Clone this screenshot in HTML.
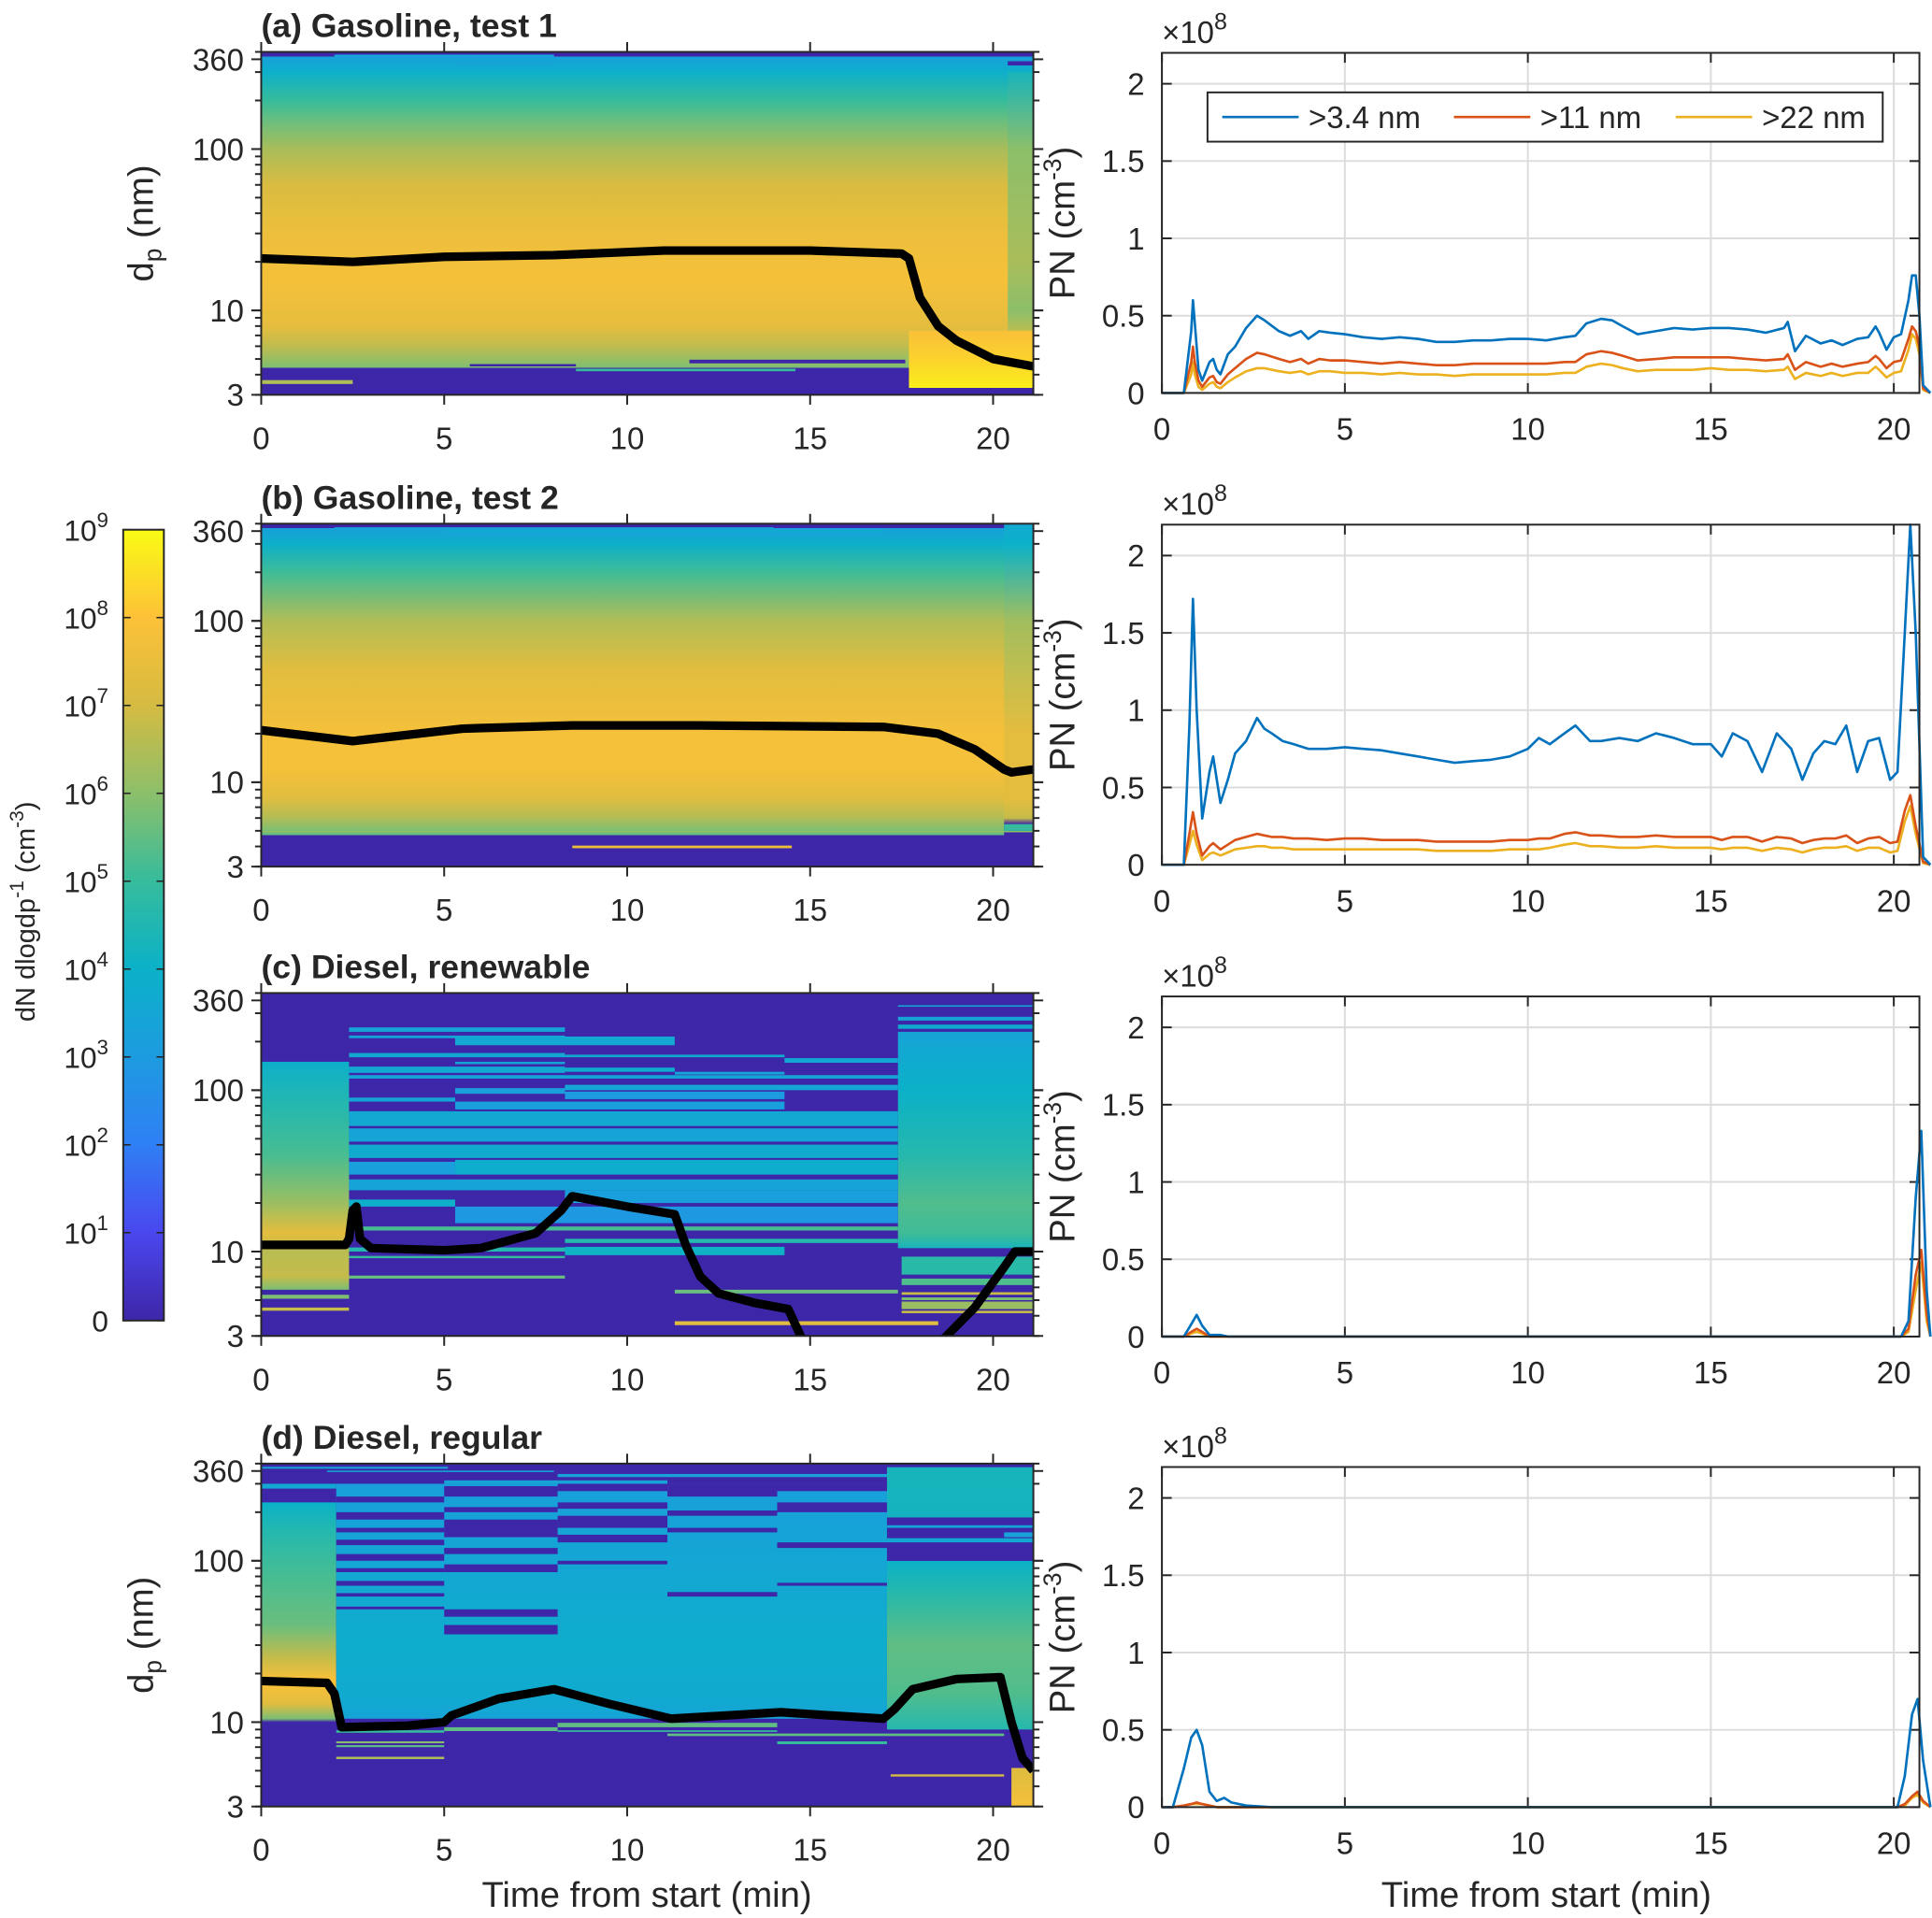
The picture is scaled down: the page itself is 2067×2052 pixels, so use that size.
<!DOCTYPE html>
<html><head><meta charset="utf-8"><style>
html,body{margin:0;padding:0;background:#fff}
svg{display:block}
text{font-family:"Liberation Sans",Arial,sans-serif;fill:#262626}
</style></head><body>
<svg id="fig" xmlns="http://www.w3.org/2000/svg" width="2067" height="2052" viewBox="0 0 1568 1557" preserveAspectRatio="none">
<defs id="defs"></defs>
</svg>
<script>
// ---------- DATA ----------
const xTickLabels = [0,5,10,15,20];
const dTickLabels = [3,10,100,360];
const pnTickLabels = [0,0.5,1,1.5,2];
const cbarLabels = ['0','1','2','3','4','5','6','7','8','9'];
const panelTitles = ['(a) Gasoline, test 1','(b) Gasoline, test 2','(c) Diesel, renewable','(d) Diesel, regular'];
const seriesNames = ['>3.4 nm','>11 nm','>22 nm'];

// heatmap segments: [t0, t1, [[diameter nm, log-level 0..9], ...]]
const segA = [
 [0,21.1,[[400,0],[375,0],[375,3.2],[300,3.9],[200,5.0],[150,5.6],[100,6.4],[60,7.1],[30,7.6],[15,7.8],[8,7.4],[6,6.7],[4.7,6.0],[4.4,5.8],[4.4,0],[3,0]]],
 [17.7,21.1,[[7.5,7.9],[5,8.3],[3.3,8.8],[3.3,0],[3,0]]],
 [20.4,21.1,[[300,4.3],[100,6.0],[20,6.4],[10,6.0],[7.5,6.6]]]
];
const segB = [
 [0,21.1,[[400,0],[375,0],[375,3.2],[300,3.9],[200,5.1],[100,6.5],[50,7.3],[20,7.8],[12,7.8],[8,7.3],[6,6.5],[5,5.8],[4.7,5.5],[4.7,0],[3,0]]],
 [20.3,21.1,[[400,3.6],[300,4.0],[100,6.3],[20,7.4],[8,7.4],[6,6.8],[5.5,0],[3,0]]]
];
const segC = [
 [0,21.1,[[400,0],[3,0]]],
 [0,2.4,[[150,3.9],[80,4.6],[40,5.2],[20,6.2],[13,7.4],[10,6.6],[7,6.8],[5.8,5.8],[5.8,0]]],
 [17.4,21.1,[[230,3.4],[100,4.0],[40,4.6],[20,5.3],[13,5.1],[10.5,4.3],[10.5,0]]]
];
const segD = [
 [0,21.1,[[400,0],[3,0]]],
 [0,2.05,[[230,4.0],[150,4.6],[80,5.2],[40,5.6],[25,6.8],[18,8.0],[13,7.3],[10.5,5.8],[10,0]]],
 [2.05,17.1,[[300,3.2],[100,3.5],[30,3.8],[15,3.7],[10.5,3.4],[10.5,0]]],
 [17.1,21.1,[[380,4.3],[185,4.2],[185,0],[100,0],[100,4.0],[60,4.7],[30,5.5],[15,5.3],[9,4.6],[9,0]]],
 [20.5,21.1,[[5.2,7.2],[3,7.8]]]
];
// thin stripes: [t0, t1, dLow, dHigh, level]
const bandsA = [[2,8,370,385,3.3],[5.3,8,330,345,3.4],[0,2.5,3.5,3.7,6.5],[5.7,8.6,4.5,4.65,0],[11.7,17.6,4.7,4.95,0],[8.6,14.6,4.2,4.35,5],[20.4,21.1,330,350,0]];
const bandsB = [[2,14,370,380,3.4],[5,17,360,365,3.8],[0,21.1,4.9,5.0,6],[8.5,14.5,3.9,4.05,7.5],[20.3,21.1,5.0,5.5,5]];
const bandsC = [
 [2.4,8.3,230,245,3.4],[2.4,8.3,210,218,3.4],[5.3,11.3,190,215,3.6],[2.4,8.3,160,170,3.6],[8.3,14.3,160,166,3.7],
 [14.3,17.4,148,158,3.6],[5.3,8.3,145,150,3.4],[2.4,8.3,128,140,3.6],[8.3,11.3,130,138,3.8],[11.3,14.3,125,130,3.4],
 [2.4,17.4,118,124,3.4],[8.3,17.4,100,108,3.5],[5.3,8.3,95,103,3.2],[8.3,14.3,88,98,3.0],[2.4,5.3,85,90,3.4],
 [5.3,14.3,76,85,3.2],[2.4,17.4,60,74,3.6],[2.4,17.4,48,58,3.4],[2.4,17.4,38,46,3.7],[2.4,5.3,30,36,3.2],
 [5.3,17.4,30,37,3.8],[2.4,17.4,24,28,3.4],[8.3,17.4,20,24,3.2],[2.4,5.3,19,21,3.9],[5.3,17.4,15,19,2.9],
 [2.4,17.4,13.5,14.3,5.2],[8.3,17.4,11.3,12,4.6],[2.4,8.3,10,10.6,4.6],[8.3,14.3,9.5,10.7,4.1],[2.4,8.3,9.1,9.4,5.0],
 [2.4,8.3,6.8,7.1,5.6],[11.3,17.4,5.5,5.8,5.6],[11.3,18.5,3.5,3.7,7.3],[0,2.4,5.1,5.4,5.8],[0,2.4,4.3,4.5,6.8],
 [17.5,21.1,7.2,9.3,4.7],[17.5,21.1,6.2,6.8,5.3],[17.5,21.1,5.4,5.6,6.8],[17.5,21.1,5.0,5.2,5.8],[17.5,21.1,4.4,4.9,6.2],
 [17.5,21.1,4.15,4.3,6.8],[17.4,21.1,330,336,3.5],[17.4,21.1,270,285,3.4],[17.4,21.1,240,255,3.7]
];
const bandsD = [
 [0,5.1,372,382,3.5],[1.8,8,355,362,3.5],[0,2.05,280,300,3.6],
 [2.05,5,230,250,0],[2.05,5,180,200,0],[2.05,5,150,160,0],[2.05,5,125,135,0],[2.05,5,100,110,0],[2.05,5,85,90,0],[2.05,5,70,75,0],[2.05,5,60,63,0],[2.05,5,50,52,0],
 [5,8.1,250,290,0],[5,8.1,200,215,0],[5,8.1,140,180,0],[5,8.1,110,120,0],[5,8.1,85,95,0],[5,8.1,45,50,0],[5,8.1,35,40,0],
 [8.1,11.1,270,300,0],[8.1,11.1,210,230,0],[8.1,11.1,160,190,0],[8.1,11.1,130,145,0],[8.1,11.1,95,100,0],
 [11.1,14.1,250,300,0],[11.1,14.1,190,205,0],[11.1,14.1,150,160,0],[11.1,14.1,60,64,0],
 [14.1,17.1,270,300,0],[14.1,17.1,200,230,0],[14.1,17.1,120,130,0],[14.1,17.1,70,73,0],
 [8.1,17.1,330,345,3.3],[5,11.1,300,315,3.4],
 [17.1,21.1,160,166,3.4],[17.1,21.1,130,138,3.6],[20.3,21.1,140,150,3.3],
 [2.05,5,8.6,8.9,5],[2.05,5,7.4,7.6,6],[2.05,5,7.0,7.2,5.5],[2.05,5,5.9,6.1,6.5],[5,8.1,8.8,9.3,5.5],
 [8.1,14.1,9.3,9.9,5.5],[8.1,14.1,8.7,8.9,5],[11.1,20.3,8.2,8.5,5.5],[14.1,17.1,7.3,7.6,5],[17.2,20.3,4.6,4.75,7]
];
// mode diameter lines: [time, diameter]; null = break
const modeA = [[0,21],[2.5,20],[5,21.5],[8,22],[11,23.5],[15,23.5],[17.5,22.5],[17.7,21],[18,12],[18.5,8],[19,6.5],[20,5],[21.1,4.5]];
const modeB = [[0,21],[2.5,18],[5.5,21.5],[8.5,22.5],[12,22.5],[17,22],[18.5,20],[19.5,16],[20.3,12],[20.5,11.5],[21.1,12]];
const modeC = [[0,11],[2.3,11],[2.4,12],[2.5,18],[2.6,19],[2.7,12],[3,10.5],[5,10.2],[6,10.5],[7.5,13],[8.2,18],[8.5,22],[10,19],[11.3,17],[11.6,11],[12,7],[12.5,5.5],[13.5,4.8],[14.4,4.4],[14.8,2.8],null,[18.6,2.8],[19.5,4.5],[20.3,8],[20.6,10],[21.1,10]];
const modeD = [[0,18],[1.8,17.5],[2,15],[2.2,9.3],[4,9.5],[5,10],[5.2,11],[6.5,14],[8,16],[9.5,13],[11.2,10.5],[14.2,11.5],[17,10.5],[17.3,12],[17.8,16],[19,18.5],[20.2,19],[20.5,10],[20.8,6],[21.1,5]];

// PN time series (x1e8 cm^-3)
const tA = [0,0.6,0.8,0.85,0.9,1.0,1.1,1.3,1.4,1.5,1.6,1.8,2,2.3,2.6,2.8,3.2,3.5,3.8,4.0,4.3,4.6,5,5.5,6,6.5,7,7.5,8,8.5,9,9.5,10,10.5,11,11.3,11.6,12,12.3,12.6,13,13.5,14,14.5,15,15.5,16,16.5,17,17.1,17.3,17.6,18,18.3,18.6,19,19.3,19.5,19.6,19.8,20,20.2,20.4,20.5,20.6,20.7,20.8,21];
const blueA = [0,0,0.4,0.6,0.45,0.15,0.08,0.2,0.22,0.15,0.12,0.25,0.3,0.42,0.5,0.47,0.4,0.37,0.4,0.35,0.4,0.39,0.38,0.36,0.35,0.36,0.35,0.33,0.33,0.34,0.34,0.35,0.35,0.34,0.36,0.37,0.45,0.48,0.47,0.43,0.38,0.4,0.42,0.41,0.42,0.42,0.41,0.39,0.42,0.46,0.27,0.37,0.32,0.34,0.31,0.35,0.36,0.43,0.39,0.28,0.36,0.38,0.6,0.76,0.76,0.5,0.05,0];
const redA = [0,0,0.2,0.3,0.2,0.08,0.04,0.1,0.11,0.07,0.06,0.12,0.16,0.22,0.26,0.25,0.22,0.2,0.22,0.19,0.22,0.21,0.21,0.2,0.19,0.2,0.19,0.18,0.18,0.19,0.19,0.19,0.19,0.19,0.2,0.2,0.25,0.27,0.26,0.24,0.21,0.22,0.23,0.23,0.23,0.23,0.22,0.21,0.22,0.25,0.15,0.2,0.17,0.19,0.17,0.19,0.2,0.24,0.22,0.16,0.2,0.21,0.35,0.43,0.4,0.3,0.03,0];
const yelA = [0,0,0.12,0.2,0.12,0.04,0.02,0.06,0.07,0.04,0.03,0.07,0.1,0.14,0.16,0.16,0.14,0.13,0.14,0.12,0.14,0.14,0.13,0.13,0.12,0.13,0.12,0.12,0.11,0.12,0.12,0.12,0.12,0.12,0.13,0.13,0.17,0.19,0.18,0.16,0.14,0.15,0.15,0.15,0.16,0.15,0.15,0.14,0.15,0.17,0.09,0.13,0.11,0.13,0.11,0.13,0.13,0.17,0.15,0.1,0.13,0.14,0.28,0.38,0.35,0.25,0.02,0];
const tB = [0,0.6,0.75,0.85,0.95,1.1,1.3,1.4,1.6,1.8,2.0,2.3,2.6,2.8,3.0,3.3,3.6,4.0,4.5,5,5.5,6,6.5,7,7.5,8,8.5,9,9.5,10,10.3,10.6,11,11.3,11.7,12,12.5,13,13.5,14,14.5,15,15.3,15.6,16,16.4,16.8,17.2,17.5,17.8,18.1,18.4,18.7,19,19.3,19.6,19.9,20.1,20.3,20.45,20.6,20.8,21];
const blueB = [0,0,0.9,1.72,1.0,0.3,0.6,0.7,0.4,0.55,0.72,0.8,0.95,0.88,0.85,0.8,0.78,0.75,0.75,0.76,0.75,0.74,0.72,0.7,0.68,0.66,0.67,0.68,0.7,0.75,0.82,0.78,0.85,0.9,0.8,0.8,0.82,0.8,0.85,0.82,0.78,0.78,0.7,0.85,0.8,0.6,0.85,0.75,0.55,0.72,0.8,0.78,0.9,0.6,0.8,0.82,0.55,0.6,1.5,2.2,1.5,0.05,0];
const redB = [0,0,0.2,0.34,0.2,0.06,0.12,0.14,0.1,0.13,0.16,0.18,0.2,0.19,0.18,0.18,0.17,0.17,0.16,0.17,0.17,0.16,0.16,0.16,0.15,0.15,0.15,0.15,0.16,0.16,0.17,0.17,0.2,0.21,0.19,0.19,0.18,0.18,0.19,0.18,0.18,0.18,0.16,0.18,0.18,0.15,0.18,0.17,0.14,0.16,0.17,0.17,0.19,0.14,0.17,0.18,0.14,0.15,0.35,0.45,0.25,0.02,0];
const yelB = [0,0,0.13,0.22,0.13,0.03,0.07,0.08,0.06,0.08,0.1,0.11,0.12,0.12,0.11,0.11,0.1,0.1,0.1,0.1,0.1,0.1,0.1,0.1,0.09,0.09,0.09,0.09,0.1,0.1,0.1,0.11,0.13,0.14,0.12,0.12,0.11,0.11,0.12,0.11,0.11,0.11,0.1,0.11,0.11,0.09,0.11,0.1,0.08,0.1,0.11,0.11,0.12,0.09,0.11,0.11,0.08,0.09,0.28,0.38,0.2,0.01,0];
const tC = [0,0.6,0.8,0.95,1.1,1.3,1.6,1.8,20.2,20.4,20.6,20.75,20.9,21];
const blueC = [0,0,0.08,0.14,0.07,0.01,0.01,0,0,0.1,0.9,1.33,0.3,0];
const redC = [0,0,0.03,0.05,0.03,0,0,0,0,0.05,0.4,0.56,0.15,0];
const yelC = [0,0,0.02,0.03,0.02,0,0,0,0,0.03,0.3,0.48,0.1,0];
const tD = [0,0.3,0.6,0.8,0.95,1.1,1.3,1.5,1.7,1.9,2.3,3,20.1,20.3,20.5,20.65,20.8,21];
const blueD = [0,0,0.25,0.45,0.5,0.4,0.1,0.04,0.06,0.03,0.01,0,0,0.2,0.6,0.7,0.3,0];
const redD = [0,0,0.01,0.02,0.03,0.02,0.01,0,0,0,0,0,0,0.02,0.07,0.1,0.04,0];
const yelD = [0,0,0.01,0.02,0.02,0.02,0.01,0,0,0,0,0,0,0.01,0.06,0.08,0.03,0];

// ---------- RENDER ----------
const NS='http://www.w3.org/2000/svg';
const svg=document.getElementById('fig');
const defs=document.getElementById('defs');
function mk(tag,attrs,parent){const e=document.createElementNS(NS,tag);for(const k in attrs)e.setAttribute(k,attrs[k]);(parent||svg).appendChild(e);return e;}
const PAR=['#3e26a8','#4a47ef','#2f7ff5','#1d9be0','#0bb1c8','#36bc9c','#8cbf6a','#d5bb42','#fdc138','#f9fb14'];
function hx(c){return [1,3,5].map(i=>parseInt(c.substr(i,2),16));}
function parula(v){v=Math.max(0,Math.min(9,v));const i=Math.min(8,Math.floor(v)),f=v-i;const a=hx(PAR[i]),b=hx(PAR[i+1]);return 'rgb('+a.map((x,k)=>Math.round(x+(b[k]-x)*f)).join(',')+')';}

const HX0=212, PX0=943, TS=29.7;
const heatX=t=>HX0+t*TS;
const y10=[252,635,1016,1398];
const heatY=(p,d)=>y10[p]-131*Math.log10(d/10);
const pnY0=[319,702,1085,1467];
const pnX=t=>PX0+t*TS;
const pnY=(p,v)=>pnY0[p]-125.5*v;
const DMAX=400,DMIN=3,TMAX=21.1,PNTMAX=20.7,PNMAX=2.2;
const segs=[segA,segB,segC,segD], bands=[bandsA,bandsB,bandsC,bandsD], modes=[modeA,modeB,modeC,modeD];
const pnT=[tA,tB,tC,tD], pnS=[[blueA,redA,yelA],[blueB,redB,yelB],[blueC,redC,yelC],[blueD,redD,yelD]];
const COLS=['#0072bd','#d95319','#edb120'];
let gid=0;

for(let p=0;p<4;p++){
  const top=heatY(p,DMAX), bot=heatY(p,DMIN), L=heatX(0), R=heatX(TMAX);
  const g=mk('g',{});
  
  
  const cp=mk('clipPath',{id:'clip'+p},defs); mk('rect',{x:L,y:top,width:R-L,height:bot-top},cp);
  const hg=mk('g',{'clip-path':'url(#clip'+p+')'},g);
  segs[p].forEach(s=>{
    const st=s[2]; const y1=heatY(p,st[0][0]), y2=heatY(p,st[st.length-1][0]);
    const id='gr'+(gid++);
    const lg=mk('linearGradient',{id:id,gradientUnits:'userSpaceOnUse',x1:0,x2:0,y1:y1,y2:y2},defs);
    st.forEach(q=>mk('stop',{offset:((heatY(p,q[0])-y1)/(y2-y1)).toFixed(4),'stop-color':parula(q[1])},lg));
    const r=mk('rect',{x:heatX(s[0]),y:y1,width:heatX(s[1])-heatX(s[0]),height:y2-y1,fill:'url(#'+id+')'},hg);
    
    
  });
  bands[p].forEach(b=>{
    const y1=heatY(p,b[3]), y2=heatY(p,b[2]);
    const r=mk('rect',{x:heatX(b[0]),y:y1,width:heatX(b[1])-heatX(b[0]),height:Math.max(1.2,y2-y1),fill:parula(b[4])},hg);
    
    
  });
  let d='',mv=true;
  modes[p].forEach(q=>{if(!q){mv=true;return;}d+=(mv?'M':'L')+heatX(q[0]).toFixed(1)+','+heatY(p,q[1]).toFixed(1);mv=false;});
  const ml=mk('path',{d:d,fill:'none',stroke:'#000','stroke-width':7,'stroke-linejoin':'round'},hg);
  
  
  mk('rect',{x:L,y:top,width:R-L,height:bot-top,fill:'none',stroke:'#262626','stroke-width':1.5},g);
  xTickLabels.forEach(t=>{
    const x=heatX(t);
    mk('line',{x1:x,x2:x,y1:bot,y2:bot+8,stroke:'#262626','stroke-width':1.5},g);
    mk('line',{x1:x,x2:x,y1:top,y2:top-8,stroke:'#262626','stroke-width':1.5},g);
    const tx=mk('text',{x:x,y:bot+44,'text-anchor':'middle','font-size':25},g); tx.textContent=t;
    
    
  });
  for(let dec=1;dec<=100;dec*=10){for(let m=1;m<10;m++){const dv=dec*m;if(dv<DMIN||dv>DMAX)continue;const y=heatY(p,dv);const len=(m===1)?8:5;
    mk('line',{x1:L,x2:L-len,y1:y,y2:y,stroke:'#262626','stroke-width':1.5},g);
    mk('line',{x1:R,x2:R+len,y1:y,y2:y,stroke:'#262626','stroke-width':1.5},g);}}
  dTickLabels.forEach(dv=>{
    const y=heatY(p,dv);
    mk('line',{x1:L,x2:L-8,y1:y,y2:y,stroke:'#262626','stroke-width':1.5},g);
    mk('line',{x1:R,x2:R+8,y1:y,y2:y,stroke:'#262626','stroke-width':1.5},g);
    const tx=mk('text',{x:L-14,y:y+9,'text-anchor':'end','font-size':25},g); tx.textContent=dv;
    
    
  });
  const tt=mk('text',{x:212,y:top-12,'font-size':27,'font-weight':'bold'},g); tt.textContent=panelTitles[p];
  
  
  if(p===0||p===3){
    const yc=(top+bot)/2;
    const yl=mk('text',{x:0,y:0,'font-size':29,'text-anchor':'middle',transform:'translate(124,'+yc+') rotate(-90)'},g);
    yl.innerHTML='d<tspan font-size="20" dy="7">p</tspan><tspan dy="-7"> (nm)</tspan>';
    
    
  }

  const pg=mk('g',{});
  
  
  const pT=pnY(p,PNMAX), pB=pnY(p,0), pL=pnX(0), pR=pnX(PNTMAX);
  mk('rect',{x:pL,y:pT,width:pR-pL,height:pB-pT,fill:'#fff'},pg);
  xTickLabels.forEach(t=>{const x=pnX(t);
    mk('line',{x1:x,x2:x,y1:pT,y2:pB,stroke:'#dcdcdc','stroke-width':1.5},pg);
    mk('line',{x1:x,x2:x,y1:pB,y2:pB-8,stroke:'#262626','stroke-width':1.5},pg);
    mk('line',{x1:x,x2:x,y1:pT,y2:pT+8,stroke:'#262626','stroke-width':1.5},pg);
    const tx=mk('text',{x:x,y:pB+38,'text-anchor':'middle','font-size':25},pg); tx.textContent=t;
    
    
  });
  pnTickLabels.forEach(v=>{const y=pnY(p,v);
    mk('line',{x1:pL,x2:pR,y1:y,y2:y,stroke:'#dcdcdc','stroke-width':1.5},pg);
    mk('line',{x1:pL,x2:pL+8,y1:y,y2:y,stroke:'#262626','stroke-width':1.5},pg);
    mk('line',{x1:pR,x2:pR-8,y1:y,y2:y,stroke:'#262626','stroke-width':1.5},pg);
    const tx=mk('text',{x:pL-14,y:y+9,'text-anchor':'end','font-size':25},pg); tx.textContent=v;
    
    
  });
  [2,1,0].forEach(si=>{
    const ts=pnT[p], vs=pnS[p][si];
    const pts=ts.map((t,i)=>pnX(t).toFixed(1)+','+pnY(p,vs[i]).toFixed(1)).join(' ');
    const pl=mk('polyline',{points:pts,fill:'none',stroke:COLS[si],'stroke-width':2,'stroke-linejoin':'round'},pg);
    
    
  });
  mk('rect',{x:pL,y:pT,width:pR-pL,height:pB-pT,fill:'none',stroke:'#262626','stroke-width':1.5},pg);
  const ex=mk('text',{x:pL,y:pT-8,'font-size':25},pg);
  ex.innerHTML='×10<tspan font-size="19" dy="-11">8</tspan>';
  
  
  const pl=mk('text',{x:0,y:0,'font-size':29,'text-anchor':'middle',transform:'translate(872,'+(pT+(pB-pT)*0.5)+') rotate(-90)'},pg);
  pl.innerHTML='PN (cm<tspan font-size="20" dy="-11">-3</tspan><tspan dy="11">)</tspan>';
  
  
}

const lgG=mk('g',{});


mk('rect',{x:980,y:75,width:548,height:40,fill:'#fff',stroke:'#262626','stroke-width':1.5},lgG);
const lx=[992,1180,1360];
seriesNames.forEach((n,i)=>{
  const e=mk('g',{},lgG);
  
  
  mk('line',{x1:lx[i],x2:lx[i]+62,y1:95,y2:95,stroke:COLS[i],'stroke-width':2},e);
  const t=mk('text',{x:lx[i]+70,y:104,'font-size':25},e); t.textContent=n;
});

const cb=mk('g',{});


const cg=mk('linearGradient',{id:'cbg',x1:0,x2:0,y1:1,y2:0},defs);
PAR.forEach((c,i)=>mk('stop',{offset:i/9,'stop-color':c},cg));
const CBT=430,CBB=1072;
mk('rect',{x:100,y:CBT,width:33,height:CBB-CBT,fill:'url(#cbg)',stroke:'#262626','stroke-width':1.5},cb);
cbarLabels.forEach((l,i)=>{
  const y=CBB-(CBB-CBT)*i/9;
  mk('line',{x1:100,x2:106,y1:y,y2:y,stroke:'#262626','stroke-width':1.2},cb);
  mk('line',{x1:133,x2:127,y1:y,y2:y,stroke:'#262626','stroke-width':1.2},cb);
  const t=mk('text',{x:88,y:y+9,'text-anchor':'end','font-size':24},cb);
  if(i===0)t.textContent='0'; else t.innerHTML='10<tspan font-size="17" dy="-11">'+l+'</tspan>';
  
  
});
const cl=mk('text',{x:0,y:0,'font-size':22,'text-anchor':'middle',transform:'translate(28,740) rotate(-90)'},cb);
cl.innerHTML='dN dlogdp<tspan font-size="16" dy="-9">-1</tspan><tspan dy="9"> (cm</tspan><tspan font-size="16" dy="-9">-3</tspan><tspan dy="9">)</tspan>';



[[525],[1255]].forEach(a=>{
  const t=mk('text',{x:a[0],y:1548,'font-size':29,'text-anchor':'middle'});
  t.textContent='Time from start (min)';
  
  
});
</script>
</body></html>
